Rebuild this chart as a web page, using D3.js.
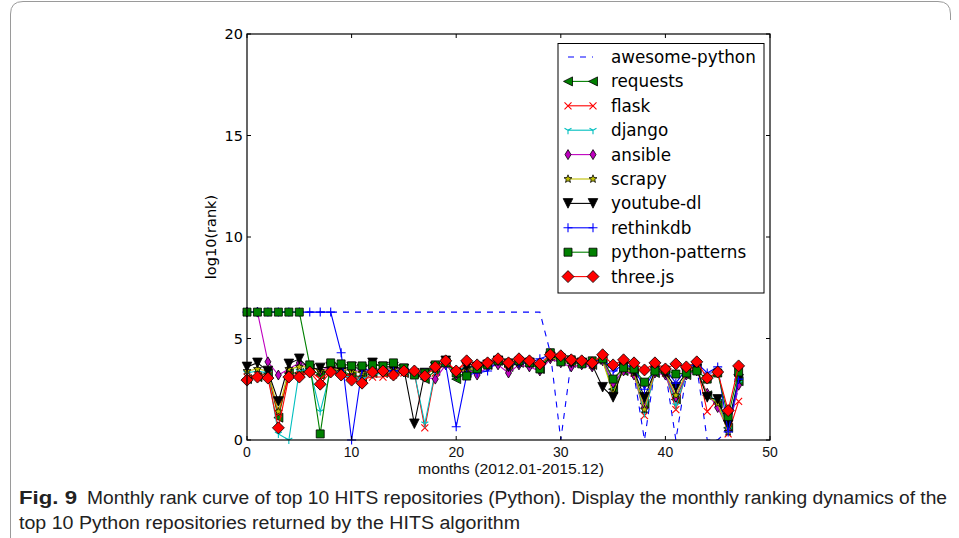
<!DOCTYPE html>
<html><head><meta charset="utf-8">
<script src="https://cdn.jsdelivr.net/npm/d3@7"></script>
<style>
html,body{margin:0;padding:0;background:#fff;}
svg{display:block;}
</style></head>
<body>
<svg id="chart" width="959" height="538"></svg>
<script>
const months = d3.range(48);
const xTicks = [0,10,20,30,40,50];
const yTicks = [0,5,10,15,20];
const seriesNames = ["awesome-python","requests","flask","django","ansible","scrapy","youtube-dl","rethinkdb","python-patterns","three.js"];

const awesomePython = [6.3,6.3,6.3,6.3,6.3,6.3,6.3,6.3,6.3,6.3,6.3,6.3,6.3,6.3,6.3,6.3,6.3,6.3,6.3,6.3,6.3,6.3,6.3,6.3,6.3,6.3,6.3,6.3,6.3,4.3,0,3.9,3.8,3.85,4.0,3.3,3.7,3.2,0,3.5,3.4,0,3.2,3.6,0,0,0.5,2.6];
const requests = [3.0,3.1,3.3,1.1,3.3,3.3,3.5,3.2,3.5,3.4,3.2,3.1,3.3,3.3,3.4,3.3,3.3,3.0,3.4,3.8,3.0,3.3,3.5,3.7,3.9,3.6,3.8,3.8,3.5,4.1,3.9,3.8,3.8,3.7,3.9,2.5,3.4,3.3,1.8,3.3,3.3,2.0,3.2,3.5,2.2,1.8,0.6,2.9];
const flask = [3.1,3.2,3.2,1.3,3.2,3.2,3.4,3.0,3.4,3.3,3.1,3.0,3.1,3.1,3.2,3.3,3.3,0.6,3.3,3.8,3.4,3.8,3.6,3.8,3.9,3.7,3.9,3.8,3.6,4.1,4.0,3.8,3.8,3.7,4.0,3.0,3.5,3.3,1.2,3.5,3.3,1.5,3.3,3.7,1.4,2.0,0.3,1.9];
const django = [3.3,3.4,3.3,0.3,0.0,3.4,3.5,1.4,3.4,3.3,3.0,3.0,3.2,3.3,3.4,3.3,3.3,0.8,3.4,3.8,3.4,3.6,3.6,3.7,3.9,3.6,3.9,3.8,3.6,4.1,4.0,3.8,3.8,3.7,3.9,2.7,3.5,3.3,1.3,3.3,3.3,1.7,3.2,3.5,2.2,1.9,0.5,2.8];
const ansible = [6.3,6.3,3.85,3.2,3.5,3.8,3.6,3.4,3.6,3.5,3.4,3.4,3.5,3.4,3.6,3.4,3.4,3.1,3.0,3.7,3.2,3.5,3.2,3.6,3.7,3.3,3.7,3.6,3.4,4.0,3.8,3.6,3.7,3.6,3.9,2.8,3.4,3.2,1.6,3.3,3.2,2.1,3.2,3.4,2.3,1.6,0.5,2.7];
const scrapy = [3.4,3.5,3.4,1.4,3.5,3.6,3.6,3.4,3.5,3.5,3.4,3.3,3.5,3.5,3.5,3.4,3.4,3.2,3.5,3.8,3.3,3.5,3.5,3.7,3.9,3.6,3.8,3.8,3.5,4.1,3.9,3.8,3.8,3.7,3.9,2.3,3.5,3.3,1.5,3.4,3.3,2.2,3.3,3.5,2.2,1.8,0.4,3.1];
const youtubeDl = [3.6,3.8,3.4,1.9,3.75,4.0,3.5,3.55,3.6,3.5,3.6,3.5,3.8,3.6,3.6,3.5,0.8,3.3,3.6,3.9,3.3,3.6,3.6,3.7,3.9,3.6,3.8,3.8,3.5,4.1,4.0,3.8,3.8,3.7,2.6,2.1,3.6,3.4,2.1,3.4,3.3,2.6,3.3,3.5,2.1,2.0,0.75,3.0];
const rethinkdb = [6.3,6.3,6.3,6.3,6.3,6.3,6.3,6.3,6.3,4.3,0.0,3.5,3.4,3.5,3.4,3.5,3.4,3.3,3.5,3.7,0.65,3.2,3.3,3.4,3.9,3.7,3.8,3.8,4.0,4.2,4.0,3.9,3.8,3.85,4.0,3.4,3.7,3.6,2.5,3.5,3.5,2.8,3.5,3.8,3.3,3.6,0.4,3.0];
const pythonPatterns = [6.3,6.3,6.3,6.3,6.3,6.3,3.7,0.3,3.8,3.75,3.65,3.65,3.7,3.65,3.8,3.55,3.2,3.3,3.7,3.8,3.3,3.15,3.5,3.7,3.9,3.8,3.9,3.8,3.5,4.3,3.85,3.95,3.75,3.9,4.0,3.0,3.55,3.5,2.85,3.4,3.45,3.25,3.3,3.4,3.0,3.3,1.15,3.35];
const threeJs = [2.95,3.1,3.05,0.6,3.1,3.1,3.35,2.75,3.35,3.2,2.95,2.8,3.35,3.4,3.2,3.4,3.4,3.15,3.6,3.9,3.4,3.9,3.7,3.8,4.0,3.8,4.0,3.9,3.75,4.2,4.15,3.95,3.9,3.8,4.2,3.7,3.95,3.8,3.45,3.8,3.5,3.75,3.6,3.85,3.05,3.35,1.45,3.65];

const seriesValues = [awesomePython,requests,flask,django,ansible,scrapy,youtubeDl,rethinkdb,pythonPatterns,threeJs];

const styles = [
  {color:"#0000ff", dash:"6,6", marker:null},
  {color:"#008000", marker:"tri_left"},
  {color:"#ff0000", marker:"x"},
  {color:"#00bfbf", marker:"tri"},
  {color:"#bf00bf", marker:"thin_d"},
  {color:"#bfbf00", marker:"star"},
  {color:"#000000", marker:"tri_down"},
  {color:"#0000ff", marker:"plus"},
  {color:"#008000", marker:"square"},
  {color:"#ff0000", marker:"diamond"}
];

function markerPath(m){
  switch(m){
    case "tri_left": {const s=4.5; return `M${-s},0L${s},${-s}L${s},${s}Z`;}
    case "x": {const s=3.5; return `M${-s},${-s}L${s},${s}M${-s},${s}L${s},${-s}`;}
    case "tri": {const s=4; return `M0,0L0,${s}M0,0L${-s*0.87},${-s*0.5}M0,0L${s*0.87},${-s*0.5}`;}
    case "thin_d": {const s=5; return `M0,${-s}L${s*0.6},0L0,${s}L${-s*0.6},0Z`;}
    case "star": {
      const R=4.2, r=1.8; let p="";
      for(let i=0;i<10;i++){const a=-Math.PI/2+i*Math.PI/5; const rr=i%2?r:R; p+=(i?"L":"M")+(rr*Math.cos(a)).toFixed(2)+","+(rr*Math.sin(a)).toFixed(2);}
      return p+"Z";}
    case "tri_down": {const s=4.8; return `M${-s},${-s}L${s},${-s}L0,${s}Z`;}
    case "plus": {const s=4.5; return `M${-s},0L${s},0M0,${-s}L0,${s}`;}
    case "square": {const s=4; return `M${-s},${-s}L${s},${-s}L${s},${s}L${-s},${s}Z`;}
    case "diamond": {const s=6; return `M0,${-s}L${s},0L0,${s}L${-s},0Z`;}
  }
  return null;
}
const strokeOnly = {x:true, tri:true, plus:true};

const svg = d3.select("#chart");
const pLeft=247, pRight=770, pTop=34, pBottom=440;
const x = d3.scaleLinear().domain([0,50]).range([pLeft,pRight]);
const y = d3.scaleLinear().domain([0,20]).range([pBottom,pTop]);

svg.append("path")
  .attr("d","M10.5,538 L10.5,14 Q10.5,1.5 23,1.5 L938,1.5 Q950.5,1.5 950.5,14 L950.5,20")
  .attr("fill","none").attr("stroke","#9a9a9a").attr("stroke-width",1);

svg.append("clipPath").attr("id","clip").append("rect")
  .attr("x",pLeft).attr("y",pTop-2).attr("width",pRight-pLeft).attr("height",pBottom-pTop+2);

const plot = svg.append("g");
const line = d3.line().x((d,i)=>x(months[i])).y(d=>y(d));

seriesValues.forEach((vals,k)=>{
  const st = styles[k];
  const g = plot.append("g");
  g.append("path").attr("d",line(vals)).attr("fill","none")
    .attr("stroke",st.color).attr("stroke-width",1.1)
    .attr("stroke-dasharray",st.dash||null)
    .attr("clip-path","url(#clip)");
  if(st.marker){
    const mp = markerPath(st.marker);
    g.selectAll("path.m").data(vals).enter().append("path").attr("class","m")
      .attr("d",mp)
      .attr("transform",(d,i)=>`translate(${x(months[i])},${y(d)})`)
      .attr("fill",strokeOnly[st.marker]?"none":st.color)
      .attr("stroke",strokeOnly[st.marker]?st.color:"#000")
      .attr("stroke-width",strokeOnly[st.marker]?1.1:0.8);
  }
});

svg.append("rect").attr("x",pLeft).attr("y",pTop).attr("width",pRight-pLeft).attr("height",pBottom-pTop)
  .attr("fill","none").attr("stroke","#000").attr("stroke-width",1.2);

const tk=4;
xTicks.forEach(t=>{
  svg.append("line").attr("x1",x(t)).attr("x2",x(t)).attr("y1",pBottom).attr("y2",pBottom-tk).attr("stroke","#000");
  svg.append("line").attr("x1",x(t)).attr("x2",x(t)).attr("y1",pTop).attr("y2",pTop+tk).attr("stroke","#000");
});
yTicks.forEach(t=>{
  svg.append("line").attr("x1",pLeft).attr("x2",pLeft+tk).attr("y1",y(t)).attr("y2",y(t)).attr("stroke","#000");
  svg.append("line").attr("x1",pRight).attr("x2",pRight-tk).attr("y1",y(t)).attr("y2",y(t)).attr("stroke","#000");
});

const narrow = "'Liberation Sans Narrow','Liberation Sans',sans-serif";
svg.append("g").selectAll("text").data(xTicks).enter().append("text")
  .attr("x",d=>x(d)).attr("y",457).attr("text-anchor","middle")
  .attr("font-family",narrow).attr("font-size",14).attr("fill","#111")
  .text(d=>d);
svg.append("g").selectAll("text").data(yTicks).enter().append("text")
  .attr("x",pLeft-4).attr("y",d=>y(d)+5).attr("text-anchor","end")
  .attr("font-family","'DejaVu Sans',sans-serif").attr("font-size",14.5).attr("fill","#000")
  .text(d=>d);

svg.append("text").attr("x",418).attr("y",474)
  .attr("font-family",narrow).attr("font-size",14).attr("fill","#111")
  .attr("textLength",186).attr("lengthAdjust","spacingAndGlyphs")
  .text("months (2012.01-2015.12)");
svg.append("text").attr("transform","translate(216,237) rotate(-90)").attr("text-anchor","middle")
  .attr("font-family","'DejaVu Sans',sans-serif").attr("font-size",14.5).attr("fill","#000")
  .text("log10(rank)");

const lg = svg.append("g");
lg.append("rect").attr("x",558).attr("y",43.5).attr("width",206).attr("height",249.5)
  .attr("fill","#fff").attr("stroke","#000").attr("stroke-width",1);
seriesNames.forEach((name,k)=>{
  const st=styles[k];
  const yy = 57 + k*24.4;
  lg.append("line").attr("x1",568).attr("x2",593).attr("y1",yy).attr("y2",yy)
    .attr("stroke",st.color).attr("stroke-width",1.1).attr("stroke-dasharray",st.dash||null);
  if(st.marker){
    [568,593].forEach(xx=>{
      lg.append("path").attr("d",markerPath(st.marker)).attr("transform",`translate(${xx},${yy})`)
        .attr("fill",strokeOnly[st.marker]?"none":st.color)
        .attr("stroke",strokeOnly[st.marker]?st.color:"#000")
        .attr("stroke-width",strokeOnly[st.marker]?1.1:0.8);
    });
  }
  lg.append("text").attr("x",611).attr("y",yy+6)
    .attr("font-family","'DejaVu Sans',sans-serif").attr("font-size",16.8).attr("fill","#000")
    .text(name);
});

const capFont = "'Liberation Sans Narrow','Liberation Sans',sans-serif";
svg.append("text").attr("x",19).attr("y",504).attr("font-family",capFont).attr("font-weight","bold")
  .attr("font-size",18).attr("fill","#222").attr("textLength",58).attr("lengthAdjust","spacingAndGlyphs")
  .text("Fig. 9");
svg.append("text").attr("x",87).attr("y",504).attr("font-family",capFont)
  .attr("font-size",18).attr("fill","#222").attr("textLength",860).attr("lengthAdjust","spacingAndGlyphs")
  .text("Monthly rank curve of top 10 HITS repositories (Python). Display the monthly ranking dynamics of the");
svg.append("text").attr("x",19).attr("y",529).attr("font-family",capFont)
  .attr("font-size",18).attr("fill","#222").attr("textLength",501).attr("lengthAdjust","spacingAndGlyphs")
  .text("top 10 Python repositories returned by the HITS algorithm");
</script>
</body></html>
